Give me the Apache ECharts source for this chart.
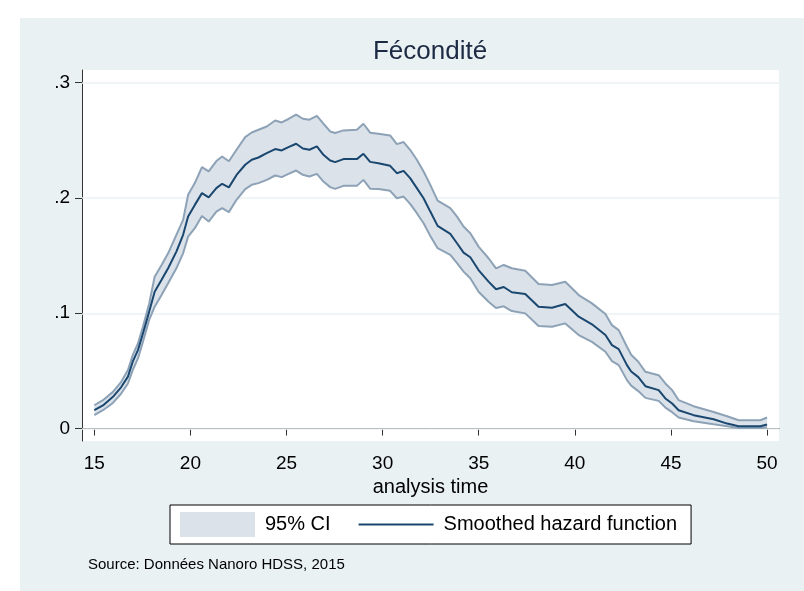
<!DOCTYPE html>
<html>
<head>
<meta charset="utf-8">
<script src="https://cdn.jsdelivr.net/npm/echarts@6/dist/echarts.min.js"></script>
<style>
  html, body { margin: 0; padding: 0; background: #fff; }
  #chart { width: 804px; height: 591px; }
</style>
</head>
<body>
<div id="chart"></div>
<script>
// analysis time (age) and smoothed hazard with 95% CI
const ageTime = [
  15.0, 15.45, 15.97, 16.4, 16.75, 17.0, 17.27, 17.53, 17.85, 18.14,
  18.5, 18.84, 19.27, 19.62, 19.88, 20.23, 20.6, 20.95, 21.35, 21.65,
  22.0, 22.4, 22.85, 23.19, 23.54, 23.97, 24.41, 24.75, 25.1, 25.5,
  25.85, 26.19, 26.58, 26.92, 27.27, 27.53, 27.96, 28.66, 29.0, 29.35,
  29.78, 30.39, 30.74, 31.09, 31.43, 31.78, 32.13, 32.48, 32.86, 33.52,
  33.87, 34.21, 34.56, 34.99, 35.51, 35.9, 36.3, 36.72, 37.42, 38.11,
  38.81, 39.5, 40.2, 40.89, 41.59, 41.93, 42.28, 42.71, 42.93, 43.3,
  43.67, 44.36, 44.71, 45.06, 45.4, 46.18, 47.22, 47.92, 48.52, 49.65, 50.0
]
const hazardLow = [
  .0116, .0159, .0222, .0304, .0391, .0507, .0608, .0752, .094, .1057,
  .1158, .126, .139, .152, .1665, .1738, .1844, .1795, .1882, .1911,
  .1877, .1984, .2077, .2114, .2129, .2157, .2195, .2181, .2209, .2238,
  .2201, .2186, .2209, .2142, .2094, .2079, .2105, .2105, .2157, .2081,
  .2077, .2062, .1998, .2012, .1949, .1868, .1781, .1671, .1564, .1506,
  .1434, .1361, .1303, .1187, .110, .1045, .106, .1019, .0999, .0889,
  .0883, .0912, .0811, .0752, .0666, .0585, .055, .042, .0372, .0325,
  .0266, .024, .0182, .0142, .0096, .0063, .0037, .002, .0005, .0005, .0011
]
const hazardMid = [
  .0159, .020, .0275, .036, .045, .058, .068, .0825, .101, .1187,
  .129, .139, .1535, .168, .184, .194, .2042, .2005, .2085, .2123,
  .2092, .220, .2288, .2331, .2351, .2389, .2424, .2412, .2441, .247,
  .2429, .2418, .2447, .2374, .2325, .2311, .2337, .2337, .2383, .2313,
  .2302, .2279, .2215, .2235, .2172, .2085, .1998, .1882, .1758, .1688,
  .1607, .1526, .1486, .1375, .1274, .1208, .1228, .1182, .1167, .1057,
  .1048, .108, .097, .0904, .0811, .0724, .0689, .055, .0495, .0446,
  .0367, .0333, .0261, .0217, .0159, .0116, .0081, .0043, .002, .002, .0035
]
const hazardHigh = [
  .0202, .0246, .0318, .0405, .0507, .0637, .0738, .0883, .108, .1317,
  .1419, .152, .168, .181, .2027, .2129, .2268, .223, .232, .236,
  .2318, .2418, .2528, .2568, .2592, .262, .2672, .2655, .2685, .2722,
  .2687, .2679, .2713, .2644, .2577, .2563, .2586, .2592, .2644, .2566,
  .2557, .2542, .2467, .2485, .2418, .2331, .2229, .2114, .1977, .1911,
  .1838, .1752, .1694, .1578, .1477, .139, .1419, .139, .1369, .1254,
  .1245, .1274, .1158, .1086, .0993, .0897, .0854, .0709, .064, .0579,
  .0492, .0463, .0391, .0333, .0246, .0194, .0144, .0107, .0072, .0072, .0096
]
const xTicks = [15, 20, 25, 30, 35, 40, 45, 50]
const yTicks = [0, 0.1, 0.2, 0.3]

const FONT = 'Liberation Sans, Arial, Helvetica, sans-serif'
const BAND_FILL = '#dbe2e9'
const BAND_EDGE = '#8da2b6'
const NAVY = '#1a476f'
const GRID_LINE = '#eaf2f3'

const chart = echarts.init(document.getElementById('chart'))

const bandData = ageTime.map((t, i) => [t, hazardLow[i], hazardHigh[i]])

// CI band: one polygon, lower edge forward then upper edge back
function renderBand(params, api) {
  if (params.dataIndex !== 0) return null
  const lowerPts = bandData.map(d => api.coord([d[0], d[1]]))
  const upperPts = bandData.map(d => api.coord([d[0], d[2]])).reverse()
  return {
    type: 'polygon',
    shape: { points: lowerPts.concat(upperPts) },
    style: { fill: BAND_FILL, stroke: null },
  }
}

const option = {
  animation: false,
  backgroundColor: '#ffffff',
  textStyle: { fontFamily: FONT },
  graphic: [
    {
      type: 'rect', z: -10, silent: true,
      shape: { x: 20, y: 18, width: 784, height: 573 },
      style: { fill: '#eaf1f3' },
    },
    {
      type: 'text', z: 10, silent: true,
      x: 430, y: 52,
      style: {
        text: 'Fécondité', font: '26px ' + FONT, fill: '#1c2a44',
        align: 'center', verticalAlign: 'middle',
      },
    },
    {
      type: 'text', z: 10, silent: true,
      x: 88, y: 565,
      style: {
        text: 'Source: Données Nanoro HDSS, 2015', font: '15px ' + FONT, fill: '#000',
        align: 'left', verticalAlign: 'middle',
      },
    },
  ],
  grid: {
    left: 82, right: 25, top: 70, bottom: 150,
    show: true, backgroundColor: '#ffffff', borderWidth: 0,
  },
  legend: {
    left: 170, top: 505,
    orient: 'horizontal',
    backgroundColor: '#ffffff',
    borderColor: '#000',
    borderWidth: 1,
    borderRadius: 0,
    padding: [7, 14, 7, 10],
    itemWidth: 75,
    itemHeight: 25,
    itemGap: 28,
    symbolKeepAspect: true,
    textStyle: { fontSize: 20, color: '#000', fontFamily: FONT, padding: [0, 0, 0, 5] },
    data: [
      { name: '95% CI', icon: 'rect', itemStyle: { color: BAND_FILL, borderWidth: 0 } },
      {
        name: 'Smoothed hazard function',
        icon: 'path://M0,0H72V2H0Z',
        itemStyle: { color: NAVY, borderWidth: 0 },
      },
    ],
    selectedMode: false,
  },
  xAxis: {
    type: 'value',
    min: 14.36,
    max: 50.62,
    name: 'analysis time',
    nameLocation: 'middle',
    nameGap: 34,
    nameTextStyle: { fontSize: 20, color: '#000', fontFamily: FONT },
    axisLine: { show: true, lineStyle: { color: '#333', width: 1 } },
    axisTick: { show: true, length: 7, customValues: xTicks, lineStyle: { color: '#333' } },
    axisLabel: {
      customValues: xTicks, margin: 13, fontSize: 19, color: '#000', fontFamily: FONT,
      formatter: v => String(v),
    },
    splitLine: { show: false },
  },
  yAxis: {
    type: 'value',
    min: -0.0108,
    max: 0.311,
    axisLine: { show: true, lineStyle: { color: '#333', width: 1 } },
    axisTick: { show: true, length: 7, customValues: yTicks, lineStyle: { color: '#333' } },
    axisLabel: {
      customValues: yTicks, margin: 12, fontSize: 19, color: '#000', fontFamily: FONT,
      formatter: v => (v === 0 ? '0' : String(v).replace(/^0\./, '.')),
    },
    splitLine: { show: false },
  },
  series: [
    {
      // horizontal gridlines at the y ticks
      name: 'grid',
      type: 'line',
      data: [],
      z: 1,
      silent: true,
      markLine: {
        z: 1,
        silent: true,
        symbol: 'none',
        label: { show: false },
        lineStyle: { color: GRID_LINE, type: 'solid', width: 1.5 },
        data: yTicks.map(v => ({ yAxis: v })),
      },
    },
    {
      name: '95% CI',
      type: 'custom',
      renderItem: renderBand,
      data: bandData,
      encode: { x: 0, y: [1, 2] },
      z: 2,
      silent: true,
      itemStyle: { color: BAND_FILL },
    },
    {
      name: 'lower',
      type: 'line',
      data: ageTime.map((t, i) => [t, hazardLow[i]]),
      symbol: 'none',
      z: 3,
      lineStyle: { color: BAND_EDGE, width: 2 },
      itemStyle: { color: BAND_EDGE },
    },
    {
      name: 'upper',
      type: 'line',
      data: ageTime.map((t, i) => [t, hazardHigh[i]]),
      symbol: 'none',
      z: 3,
      lineStyle: { color: BAND_EDGE, width: 2 },
      itemStyle: { color: BAND_EDGE },
    },
    {
      name: 'Smoothed hazard function',
      type: 'line',
      data: ageTime.map((t, i) => [t, hazardMid[i]]),
      symbol: 'none',
      z: 4,
      lineStyle: { color: NAVY, width: 2 },
      itemStyle: { color: NAVY },
    },
  ],
}

chart.setOption(option)
</script>
</body>
</html>
